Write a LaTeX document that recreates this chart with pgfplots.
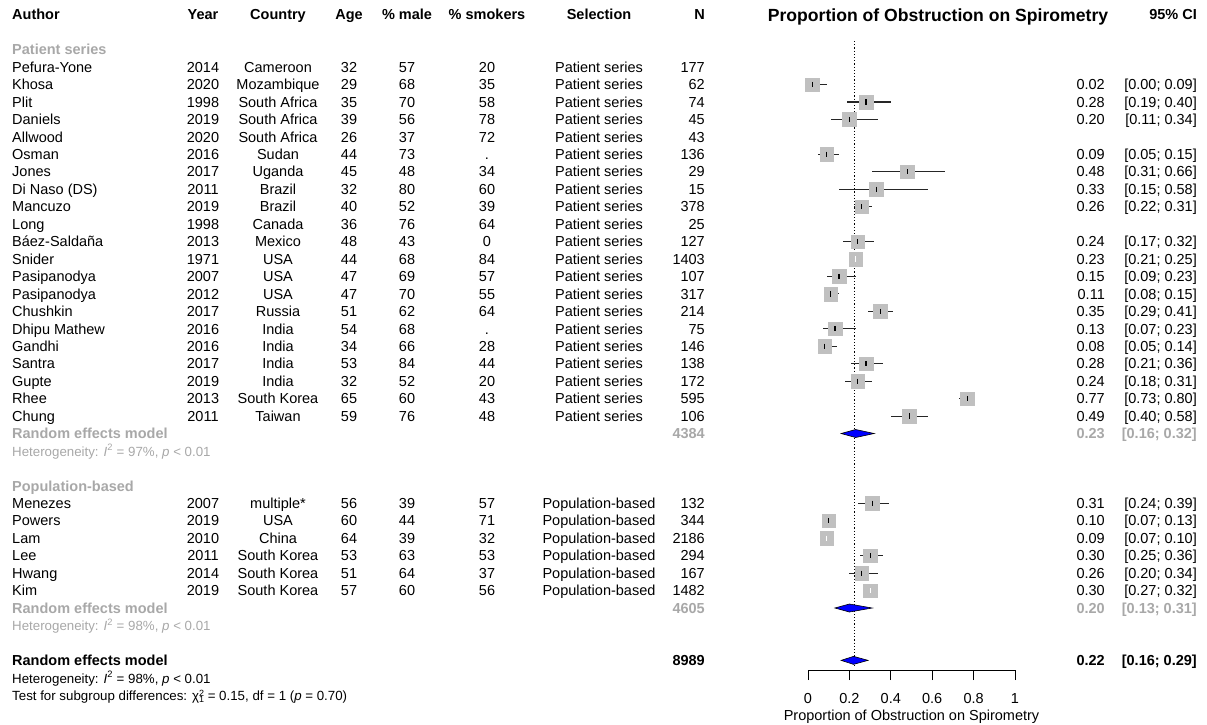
\documentclass[border=0pt]{standalone}
\usepackage{fontspec}
\setmainfont{Liberation Sans}
\usepackage{pgfplots}
\usepackage{pgfplotstable}
\pgfplotsset{compat=1.18}
\definecolor{sqgray}{RGB}{192,192,192}
\definecolor{txgray}{RGB}{168,168,168}
\newcommand\fs{\fontsize{14.5}{17}\selectfont}
\newcommand\fsh{\fontsize{13.3}{16}\selectfont}
\newcommand\yb[1]{-(14.7+17.45*#1+5.2)}
\newcommand\study[9]{%
 \node[anchor=base west] at (12,{\yb{#1}}) {#2};
 \node[anchor=base] at (203,{\yb{#1}}) {#3};
 \node[anchor=base] at (278,{\yb{#1}}) {#4};
 \node[anchor=base] at (349,{\yb{#1}}) {#5};
 \node[anchor=base] at (407,{\yb{#1}}) {#6};
 \node[anchor=base] at (487,{\yb{#1}}) {#7};
 \node[anchor=base] at (599,{\yb{#1}}) {#8};
 \node[anchor=base east] at (705,{\yb{#1}}) {#9};
}
\newcommand\res[3]{%
 \node[anchor=base east] at (1105,{\yb{#1}}) {#2};
 \node[anchor=base east] at (1197,{\yb{#1}}) {#3};
}
\pgfplotstableread{
k est lo hi
4 0.02 0.00 0.09
5 0.28 0.19 0.40
6 0.20 0.11 0.34
8 0.09 0.05 0.15
9 0.48 0.31 0.66
10 0.33 0.15 0.58
11 0.26 0.22 0.31
13 0.24 0.17 0.32
15 0.15 0.09 0.23
16 0.11 0.08 0.15
17 0.35 0.29 0.41
18 0.13 0.07 0.23
19 0.08 0.05 0.14
20 0.28 0.21 0.36
21 0.24 0.18 0.31
22 0.77 0.73 0.80
23 0.49 0.40 0.58
28 0.31 0.24 0.39
29 0.10 0.07 0.13
31 0.30 0.25 0.36
32 0.26 0.20 0.34
}\blackci
\pgfplotstableread{
k est lo hi
14 0.23 0.21 0.25
30 0.09 0.07 0.10
33 0.30 0.27 0.32
}\whiteci
\begin{document}
\begin{tikzpicture}[x=1pt,y=1pt,every node/.style={font=\fs,inner sep=0pt}]
\path[use as bounding box] (0,0) rectangle (1207,-724);
\begin{axis}[
 at={(808pt,-670pt)}, anchor=south west,
 scale only axis, width=207pt, height=640pt,
 xmin=0, xmax=1, ymin=-670, ymax=-30, enlargelimits=false,
 clip=false,
 axis x line*=bottom, axis y line=none,
 xtick={0,0.2,0.4,0.6,0.8,1}, xticklabels={0,0.2,0.4,0.6,0.8,1},
 tick align=outside, major tick length=10pt,
 x axis line style={line width=0.8pt, black},
 xtick style={line width=0.8pt, black},
 xticklabel style={font=\fs, anchor=base, yshift=-23pt},
 xlabel={Proportion of Obstruction on Spirometry},
 xlabel style={font=\fs, anchor=base, at={(axis description cs:0.5,0)}, yshift=-50pt},
]
\addplot[black, line width=1pt, dash pattern=on 1.2pt off 2pt] coordinates {(0.224,-41) (0.224,-668)};
\addplot[only marks, mark=square*, mark size=6.8, mark options={fill=sqgray, draw=sqgray}]
 table[x=est, y expr=-(14.7+17.45*\thisrow{k})] \blackci;
\addplot[only marks, mark=square*, mark size=6.8, mark options={fill=sqgray, draw=sqgray}]
 table[x=est, y expr=-(14.7+17.45*\thisrow{k})] \whiteci;
\addplot[only marks, mark=|, mark size=2.6, mark options={black, line width=1.2pt},
 error bars/.cd, x dir=both, x explicit, error mark=none, error bar style={line width=1.1pt, black!85}]
 table[x=est, y expr=-(14.7+17.45*\thisrow{k}),
  x error plus expr=\thisrow{hi}-\thisrow{est}, x error minus expr=\thisrow{est}-\thisrow{lo}] \blackci;
\addplot[only marks, mark=|, mark size=2.6, mark options={white, line width=1.2pt},
 error bars/.cd, x dir=both, x explicit, error mark=none, error bar style={line width=1pt, white}]
 table[x=est, y expr=-(14.7+17.45*\thisrow{k}),
  x error plus expr=\thisrow{hi}-\thisrow{est}, x error minus expr=\thisrow{est}-\thisrow{lo}] \whiteci;
\addplot[fill=blue, draw=black, line width=0.6pt] coordinates {(0.16,-433.5) (0.23,-429.5) (0.32,-433.5) (0.23,-437.5)} --cycle;
\addplot[fill=blue, draw=black, line width=0.6pt] coordinates {(0.13,-608) (0.20,-604) (0.31,-608) (0.20,-612)} --cycle;
\addplot[fill=blue, draw=black, line width=0.6pt] coordinates {(0.16,-660.35) (0.22,-656.35) (0.29,-660.35) (0.22,-664.35)} --cycle;
\end{axis}
% header
\node[anchor=base west, font=\fs\bfseries] at (12,{\yb{0}}) {Author};
\node[anchor=base, font=\fs\bfseries] at (203,{\yb{0}}) {Year};
\node[anchor=base, font=\fs\bfseries] at (278,{\yb{0}}) {Country};
\node[anchor=base, font=\fs\bfseries] at (349,{\yb{0}}) {Age};
\node[anchor=base, font=\fs\bfseries] at (407,{\yb{0}}) {\% male};
\node[anchor=base, font=\fs\bfseries] at (487,{\yb{0}}) {\% smokers};
\node[anchor=base, font=\fs\bfseries] at (599,{\yb{0}}) {Selection};
\node[anchor=base east, font=\fs\bfseries] at (705,{\yb{0}}) {N};
\node[anchor=base, font=\fontsize{17.6}{20}\selectfont\bfseries] at (938,-21) {Proportion of Obstruction on Spirometry};
\node[anchor=base east, font=\fs\bfseries] at (1197,{\yb{0}}) {95\% CI};
% patient series
\node[anchor=base west, font=\fs\bfseries, text=txgray] at (12,{\yb{2}}) {Patient series};
\study{3}{Pefura-Yone}{2014}{Cameroon}{32}{57}{20}{Patient series}{177}
\study{4}{Khosa}{2020}{Mozambique}{29}{68}{35}{Patient series}{62}
\study{5}{Plit}{1998}{South Africa}{35}{70}{58}{Patient series}{74}
\study{6}{Daniels}{2019}{South Africa}{39}{56}{78}{Patient series}{45}
\study{7}{Allwood}{2020}{South Africa}{26}{37}{72}{Patient series}{43}
\study{8}{Osman}{2016}{Sudan}{44}{73}{.}{Patient series}{136}
\study{9}{Jones}{2017}{Uganda}{45}{48}{34}{Patient series}{29}
\study{10}{Di Naso (DS)}{2011}{Brazil}{32}{80}{60}{Patient series}{15}
\study{11}{Mancuzo}{2019}{Brazil}{40}{52}{39}{Patient series}{378}
\study{12}{Long}{1998}{Canada}{36}{76}{64}{Patient series}{25}
\study{13}{Báez-Saldaña}{2013}{Mexico}{48}{43}{0}{Patient series}{127}
\study{14}{Snider}{1971}{USA}{44}{68}{84}{Patient series}{1403}
\study{15}{Pasipanodya}{2007}{USA}{47}{69}{57}{Patient series}{107}
\study{16}{Pasipanodya}{2012}{USA}{47}{70}{55}{Patient series}{317}
\study{17}{Chushkin}{2017}{Russia}{51}{62}{64}{Patient series}{214}
\study{18}{Dhipu Mathew}{2016}{India}{54}{68}{.}{Patient series}{75}
\study{19}{Gandhi}{2016}{India}{34}{66}{28}{Patient series}{146}
\study{20}{Santra}{2017}{India}{53}{84}{44}{Patient series}{138}
\study{21}{Gupte}{2019}{India}{32}{52}{20}{Patient series}{172}
\study{22}{Rhee}{2013}{South Korea}{65}{60}{43}{Patient series}{595}
\study{23}{Chung}{2011}{Taiwan}{59}{76}{48}{Patient series}{106}
\res{4}{0.02}{[0.00; 0.09]}
\res{5}{0.28}{[0.19; 0.40]}
\res{6}{0.20}{[0.11; 0.34]}
\res{8}{0.09}{[0.05; 0.15]}
\res{9}{0.48}{[0.31; 0.66]}
\res{10}{0.33}{[0.15; 0.58]}
\res{11}{0.26}{[0.22; 0.31]}
\res{13}{0.24}{[0.17; 0.32]}
\res{14}{0.23}{[0.21; 0.25]}
\res{15}{0.15}{[0.09; 0.23]}
\res{16}{0.11}{[0.08; 0.15]}
\res{17}{0.35}{[0.29; 0.41]}
\res{18}{0.13}{[0.07; 0.23]}
\res{19}{0.08}{[0.05; 0.14]}
\res{20}{0.28}{[0.21; 0.36]}
\res{21}{0.24}{[0.18; 0.31]}
\res{22}{0.77}{[0.73; 0.80]}
\res{23}{0.49}{[0.40; 0.58]}
\begin{scope}[every node/.append style={font=\fs\bfseries, text=txgray}]
\node[anchor=base west] at (12,{\yb{24}}) {Random effects model};
\node[anchor=base east] at (705,{\yb{24}}) {4384};
\res{24}{0.23}{[0.16; 0.32]}
\end{scope}
\node[anchor=base west, font=\fsh, text=txgray] at (12,{\yb{25}}) {Heterogeneity: \textit{I}\textsuperscript{2} = 97\%, \textit{p} < 0.01};
% population based
\node[anchor=base west, font=\fs\bfseries, text=txgray] at (12,{\yb{27}}) {Population-based};
\study{28}{Menezes}{2007}{multiple*}{56}{39}{57}{Population-based}{132}
\study{29}{Powers}{2019}{USA}{60}{44}{71}{Population-based}{344}
\study{30}{Lam}{2010}{China}{64}{39}{32}{Population-based}{2186}
\study{31}{Lee}{2011}{South Korea}{53}{63}{53}{Population-based}{294}
\study{32}{Hwang}{2014}{South Korea}{51}{64}{37}{Population-based}{167}
\study{33}{Kim}{2019}{South Korea}{57}{60}{56}{Population-based}{1482}
\res{28}{0.31}{[0.24; 0.39]}
\res{29}{0.10}{[0.07; 0.13]}
\res{30}{0.09}{[0.07; 0.10]}
\res{31}{0.30}{[0.25; 0.36]}
\res{32}{0.26}{[0.20; 0.34]}
\res{33}{0.30}{[0.27; 0.32]}
\begin{scope}[every node/.append style={font=\fs\bfseries, text=txgray}]
\node[anchor=base west] at (12,{\yb{34}}) {Random effects model};
\node[anchor=base east] at (705,{\yb{34}}) {4605};
\res{34}{0.20}{[0.13; 0.31]}
\end{scope}
\node[anchor=base west, font=\fsh, text=txgray] at (12,{\yb{35}}) {Heterogeneity: \textit{I}\textsuperscript{2} = 98\%, \textit{p} < 0.01};
% overall
\begin{scope}[every node/.append style={font=\fs\bfseries}]
\node[anchor=base west] at (12,{\yb{37}}) {Random effects model};
\node[anchor=base east] at (705,{\yb{37}}) {8989};
\res{37}{0.22}{[0.16; 0.29]}
\end{scope}
\node[anchor=base west, font=\fsh] at (12,{\yb{38}}) {Heterogeneity: \textit{I}\textsuperscript{2} = 98\%, \textit{p} < 0.01};
\node[anchor=base west, font=\fsh] at (12,{\yb{39}}) {Test for subgroup differences: χ\makebox[0pt][l]{\raisebox{4pt}{\fontsize{9}{9}\selectfont 2}}\raisebox{-2.5pt}{\fontsize{9}{9}\selectfont 1} = 0.15, df = 1 (\textit{p} = 0.70)};
\end{tikzpicture}
\end{document}
